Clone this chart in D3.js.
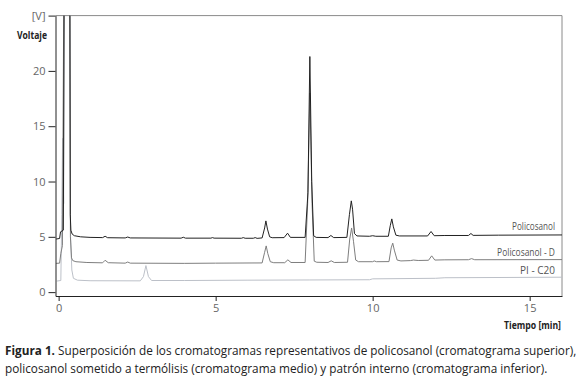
<!DOCTYPE html>
<html>
<head>
<meta charset="utf-8">
<script src="https://cdn.jsdelivr.net/npm/d3@7"></script>
<style>
  body { margin: 0; background: #fff; }
  svg { display: block; }
  .lbl { font-family: "Liberation Sans Narrow", "Open Sans", sans-serif; }
</style>
</head>
<body>
<div id="chart"></div>
<script>
// chromatogram traces, [time (min), voltage (V)]
const policosanol = [[-0.08,4.8],[0.03,4.85],[0.06,5.45],[0.15,5.6],[0.18,30],[0.355,30],[0.37,7],[0.39,5.6],[0.43,5.25],[0.5,5.1],[0.7,5.0],[1.0,4.95],[1.4,4.93],[1.48,5.05],[1.56,4.92],[2.12,4.9],[2.2,4.98],[2.28,4.9],[3.9,4.88],[3.97,4.96],[4.04,4.88],[4.85,4.88],[4.9,4.93],[4.95,4.88],[5.82,4.87],[5.88,4.93],[5.94,4.87],[6.2,4.87],[6.26,4.93],[6.32,4.86],[6.48,4.9],[6.56,5.8],[6.6,6.44],[6.65,5.7],[6.72,5.0],[6.8,4.92],[7.18,4.93],[7.29,5.33],[7.38,4.95],[7.85,4.95],[7.94,9],[8.0,21.3],[8.06,10],[8.12,5.1],[8.2,4.95],[8.58,4.93],[8.67,5.12],[8.76,4.93],[9.18,4.95],[9.26,7],[9.32,8.25],[9.36,7.5],[9.42,5.3],[9.5,5.08],[9.9,5.05],[10.0,5.1],[10.1,5.05],[10.5,5.05],[10.56,6.0],[10.61,6.62],[10.66,5.9],[10.74,5.15],[10.85,5.08],[11.75,5.08],[11.86,5.48],[11.96,5.1],[12.3,5.12],[13.05,5.12],[13.13,5.3],[13.2,5.13],[14.0,5.15],[16.05,5.17]];

const policosanolD = [[-0.08,2.6],[0.03,2.62],[0.07,3.5],[0.12,4.2],[0.17,30],[0.355,30],[0.375,5],[0.41,3.1],[0.45,2.85],[0.55,2.75],[0.9,2.68],[1.4,2.65],[1.48,2.88],[1.58,2.66],[2.12,2.62],[2.2,2.72],[2.28,2.62],[4.0,2.6],[5.0,2.62],[6.48,2.64],[6.56,3.6],[6.61,4.18],[6.66,3.5],[6.74,2.75],[6.85,2.66],[7.2,2.66],[7.3,2.92],[7.4,2.68],[7.85,2.68],[7.93,8],[8.0,18],[8.07,8],[8.14,2.8],[8.22,2.7],[8.58,2.68],[8.68,2.83],[8.78,2.68],[9.2,2.7],[9.27,4.8],[9.33,5.8],[9.39,4.6],[9.46,2.9],[9.55,2.75],[10.0,2.75],[10.05,2.82],[10.12,2.75],[10.52,2.76],[10.59,4.0],[10.64,4.43],[10.69,3.8],[10.78,2.9],[10.9,2.82],[11.2,2.85],[11.3,2.9],[11.45,2.86],[11.78,2.88],[11.88,3.28],[11.98,2.9],[12.3,2.92],[13.05,2.93],[13.15,3.03],[13.25,2.93],[16.05,2.94]];

const piC20 = [[-0.06,1.0],[0.07,1.05],[0.10,7],[0.125,13.9],[0.16,8],[0.185,30],[0.36,30],[0.38,5],[0.42,2],[0.47,1.25],[0.6,1.08],[1.0,1.03],[2.6,1.02],[2.7,1.4],[2.78,2.4],[2.86,1.4],[2.96,1.05],[4.0,1.05],[6.0,1.08],[8.0,1.1],[9.9,1.12],[10.0,1.2],[12.0,1.25],[12.3,1.3],[16.05,1.35]];

const seriesNames = ['PI - C20', 'Policosanol - D', 'Policosanol'];
const xTicks = [0, 5, 10, 15];
const yTicks = [0, 5, 10, 15, 20, 25];
const yTickLabels = ['0', '5', '10', '15', '20', '[V]'];
const captionBold = 'Figura 1.';
const captionLines = [
  ' Superposición de los cromatogramas representativos de policosanol (cromatograma superior),',
  'policosanol sometido a termólisis (cromatograma medio) y patrón interno (cromatograma inferior).'
];

const width = 585, height = 381;
const plot = { left: 55.5, right: 562, top: 15.6, bottom: 296 };

const svg = d3.select('#chart').append('svg')
  .attr('width', width)
  .attr('height', height);

const x = d3.scaleLinear().domain([-0.1, 16.03]).range([plot.left, plot.right]);
const y = d3.scaleLinear().domain([-0.35, 25]).range([plot.bottom, plot.top]);

svg.append('defs').append('clipPath').attr('id', 'plot')
  .append('rect')
  .attr('x', plot.left).attr('y', plot.top)
  .attr('width', plot.right - plot.left).attr('height', plot.bottom - plot.top);

// top and right frame
svg.append('path')
  .attr('d', `M${plot.left},${plot.top}H${plot.right}V${plot.bottom}`)
  .attr('fill', 'none')
  .attr('stroke', '#8a8a8a')
  .attr('stroke-width', 1);

const line = d3.line().x(d => x(d[0])).y(d => y(d[1]));

const traces = [
  { data: piC20, color: '#bcc0c8' },
  { data: policosanolD, color: '#7e7e7e' },
  { data: policosanol, color: '#222' }
];

svg.append('g').attr('clip-path', 'url(#plot)')
  .selectAll('path')
  .data(traces)
  .join('path')
  .attr('d', d => line(d.data))
  .attr('fill', 'none')
  .attr('stroke', d => d.color)
  .attr('stroke-width', 1);

// axes
const yAxis = svg.append('g')
  .attr('transform', `translate(${plot.left},0)`)
  .call(d3.axisLeft(y).tickValues(yTicks).tickSize(7).tickSizeOuter(0).tickPadding(3)
    .tickFormat((d, i) => yTickLabels[i]));

const xAxis = svg.append('g')
  .attr('transform', `translate(0,${plot.bottom})`)
  .call(d3.axisBottom(x).tickValues(xTicks).tickSize(5).tickSizeOuter(0).tickPadding(3));

[yAxis, xAxis].forEach(a => {
  a.select('.domain').attr('stroke', '#222');
  a.selectAll('.tick line').attr('stroke', '#222');
  a.selectAll('.tick text')
    .attr('class', 'lbl')
    .attr('fill', '#666')
    .style('font-size', '11px');
});

// squeeze a text horizontally so it spans at most w pixels
function fit(sel, w, x0, yb, anchor) {
  const n = sel.node().getComputedTextLength();
  const s = Math.min(1, w / n);
  sel.attr('x', 0).attr('y', 0)
    .attr('transform', `translate(${x0},${yb}) scale(${s},1)`);
  if (anchor) sel.attr('text-anchor', anchor);
  return s;
}

// axis titles
fit(svg.append('text').attr('class', 'lbl')
  .attr('font-weight', 'bold').attr('font-size', 11).attr('fill', '#222')
  .text('Voltaje'), 30, 17, 39);

fit(svg.append('text').attr('class', 'lbl')
  .attr('font-weight', 'bold').attr('font-size', 11).attr('fill', '#222')
  .text('Tiempo [min]'), 57, 561, 329, 'end');

// trace labels
const labelPos = [
  { name: seriesNames[2], yb: 230, w: 43 },
  { name: seriesNames[1], yb: 256, w: 58 },
  { name: seriesNames[0], yb: 273.5, w: 35 }
];
labelPos.forEach(l => {
  fit(svg.append('text').attr('class', 'lbl')
    .attr('font-size', 11).attr('fill', '#555')
    .text(l.name), l.w, 555, l.yb, 'end');
});

// caption
const cap1 = svg.append('text').attr('class', 'lbl')
  .attr('font-size', 12.5).attr('fill', '#222');
cap1.append('tspan').attr('font-weight', 'bold').text(captionBold);
cap1.append('tspan').text(captionLines[0]);
const k = fit(cap1, 572, 5, 355);

const cap2 = svg.append('text').attr('class', 'lbl')
  .attr('font-size', 12.5).attr('fill', '#222')
  .text(captionLines[1]);
cap2.attr('x', 0).attr('y', 0).attr('transform', `translate(5,373) scale(${k},1)`);
</script>
</body>
</html>
